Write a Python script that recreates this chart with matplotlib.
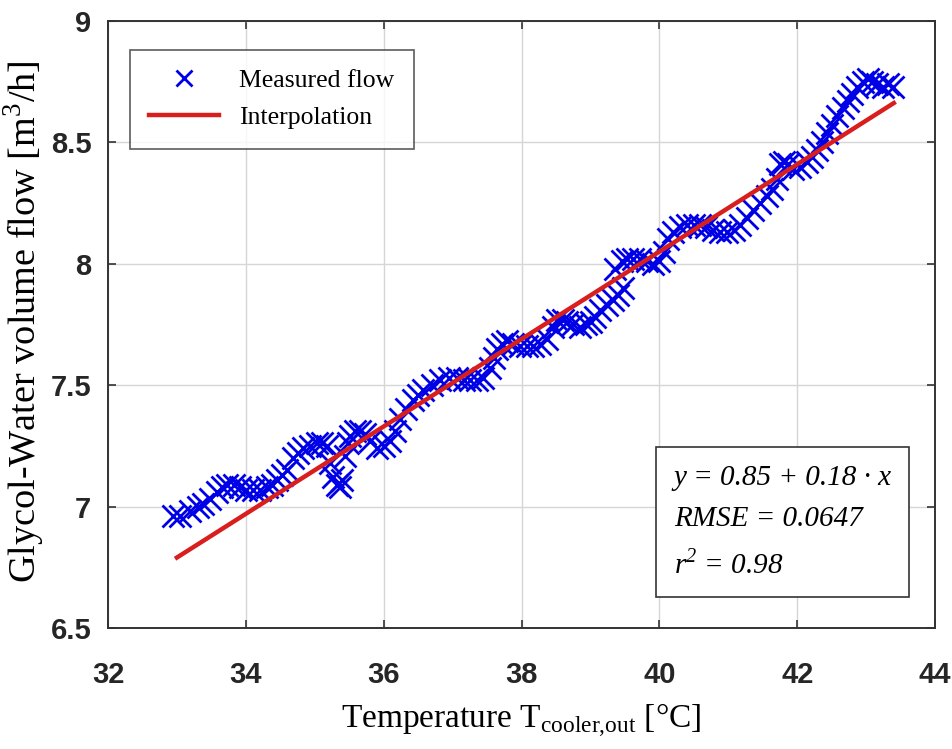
import numpy as np
import matplotlib
matplotlib.use("Agg")
import matplotlib.pyplot as plt
from matplotlib import font_manager

# measured glycol-water flow
temp = [32.94, 33.05, 33.19, 33.30, 33.38, 33.48, 33.58, 33.66, 33.73, 33.83,
        33.92, 34.00, 34.10, 34.20, 34.31, 34.38, 34.45, 34.53, 34.60, 34.69,
        34.76, 34.83, 34.93, 35.03, 35.10, 35.18, 35.22, 35.27, 35.32, 35.36,
        35.40, 35.44, 35.48, 35.51, 35.58, 35.66, 35.73, 35.80, 35.90, 36.00,
        36.09, 36.17, 36.24, 36.33, 36.43, 36.50, 36.57, 36.70, 36.82, 36.95,
        37.07, 37.16, 37.25, 37.35, 37.44, 37.54, 37.60, 37.65, 37.72, 37.79,
        37.88, 37.98, 38.08, 38.17, 38.27, 38.37, 38.45, 38.52, 38.60, 38.66,
        38.75, 38.85, 38.93, 39.00, 39.07, 39.14, 39.24, 39.33, 39.40, 39.47,
        39.36, 39.45, 39.53, 39.62, 39.72, 39.82, 39.91, 40.00, 40.06, 40.13,
        40.20, 40.30, 40.40, 40.50, 40.59, 40.68, 40.78, 40.88, 40.98, 41.08,
        41.17, 41.27, 41.36, 41.46, 41.56, 41.64, 41.71, 41.75, 41.80, 41.87,
        41.94, 42.04, 42.14, 42.22, 42.29, 42.36, 42.43, 42.50, 42.58, 42.66,
        42.73, 42.80, 42.87, 42.95, 43.02, 43.09, 43.16, 43.24, 43.31, 43.39]
flow = [6.96, 6.96, 6.98, 7.00, 7.01, 7.03, 7.06, 7.08, 7.09, 7.09,
        7.08, 7.07, 7.07, 7.07, 7.08, 7.09, 7.11, 7.13, 7.15, 7.20,
        7.22, 7.24, 7.25, 7.26, 7.26, 7.25, 7.18, 7.12, 7.09, 7.08,
        7.11, 7.21, 7.26, 7.29, 7.31, 7.31, 7.30, 7.27, 7.24, 7.25,
        7.27, 7.31, 7.36, 7.40, 7.44, 7.46, 7.48, 7.50, 7.52, 7.53,
        7.53, 7.52, 7.52, 7.52, 7.53, 7.57, 7.61, 7.65, 7.67, 7.68,
        7.67, 7.66, 7.66, 7.66, 7.67, 7.69, 7.74, 7.77, 7.77, 7.76,
        7.75, 7.74, 7.75, 7.76, 7.78, 7.81, 7.83, 7.85, 7.87, 7.90,
        7.98, 8.01, 8.02, 8.02, 8.02, 8.01, 8.00, 8.01, 8.05, 8.10,
        8.13, 8.15, 8.16, 8.16, 8.16, 8.15, 8.14, 8.13, 8.13, 8.14,
        8.16, 8.19, 8.22, 8.25, 8.28, 8.31, 8.35, 8.41, 8.42, 8.41,
        8.39, 8.40, 8.42, 8.44, 8.47, 8.50, 8.54, 8.57, 8.61, 8.64,
        8.67, 8.70, 8.73, 8.75, 8.76, 8.75, 8.74, 8.73, 8.74, 8.73]

# linear fit shown in the box
intercept = 0.85
slope = 0.18
rmse = 0.0647
r2 = 0.98
fit_range = [33.0, 43.4]

xticks = [32, 34, 36, 38, 40, 42, 44]
yticks = [6.5, 7, 7.5, 8, 8.5, 9]
ytick_labels = ["6.5", "7", "7.5", "8", "8.5", "9"]

names = {f.name for f in font_manager.fontManager.ttflist}
tick_font = "Liberation Sans Narrow" if "Liberation Sans Narrow" in names else "Liberation Sans"
serif = "Liberation Serif"

fig = plt.figure(figsize=(9.53, 7.49), dpi=100)
ax = fig.add_axes([0.1133, 0.1616, 0.868, 0.8104])

ax.plot(temp, flow, linestyle="none", marker="x", color="#0000e6",
        markersize=16, markeredgewidth=2.0, label="Measured flow", zorder=2)
fx = np.array(fit_range)
ax.plot(fx, intercept + slope * fx, color="#d91e1e", linewidth=3.2,
        label="Interpolation", zorder=3)

ax.set_xlim(32, 44)
ax.set_ylim(6.5, 9)
ax.set_xticks(xticks)
ax.set_yticks(yticks)
ax.set_yticklabels(ytick_labels)
ax.grid(True, color="#d6d6d6", linewidth=1.0)
ax.set_axisbelow(True)
ax.tick_params(direction="in", top=True, right=True, length=6, width=1.2,
               color="#333333")
ax.tick_params(axis="x", pad=24)
ax.tick_params(axis="y", pad=12)
for lab in ax.get_xticklabels() + ax.get_yticklabels():
    lab.set_fontfamily(tick_font)
    lab.set_fontweight("bold")
    lab.set_fontsize(21)
    lab.set_color("#262626")
for sp in ax.spines.values():
    sp.set_color("#333333")
    sp.set_linewidth(1.4)

ax.set_xlabel(r"Temperature T$_{\mathregular{cooler{,}out}}$ [°C]",
              fontfamily=serif, fontsize=24)
ax.xaxis.set_label_coords(0.5, -0.122)
ax.set_ylabel(r"Glycol-Water volume flow [m$^{\mathregular{3}}$/h]",
              fontfamily=serif, fontsize=27.5)
ax.yaxis.set_label_coords(-0.074, 0.505)

leg = ax.legend(loc="upper left", bbox_to_anchor=(0.0266, 0.952),
                prop={"family": serif, "size": 18.5}, frameon=True,
                fancybox=False, edgecolor="#333333", handlelength=2.7,
                borderpad=0.75, labelspacing=0.55, borderaxespad=0,
                markerscale=0.7)
leg.get_frame().set_linewidth(1.2)

info = "y = %.2f + %.2f \u00b7 x\nRMSE = %.4f\nr$^{\mathregular{2}}$ = %.2f" % (
    intercept, slope, rmse, r2)
ax.text(0.684, 0.08, info, transform=ax.transAxes, fontfamily=serif,
        fontstyle="italic", fontsize=21, linespacing=1.75, va="bottom", ha="left",
        bbox=dict(boxstyle="square,pad=0.6", facecolor="white",
                  edgecolor="#333333", linewidth=1.2))

fig.savefig("out.png", dpi=100)
